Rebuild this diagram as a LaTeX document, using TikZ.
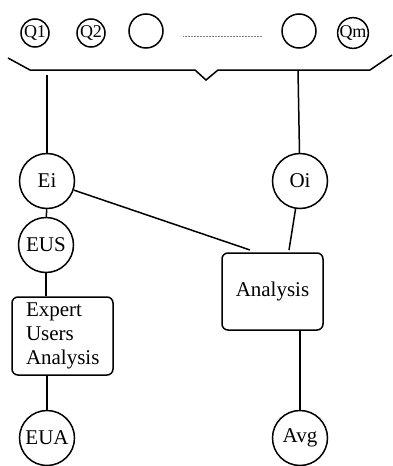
\documentclass[tikz,border=0pt]{standalone}
\usepackage{fontspec}
\setmainfont{Liberation Serif}
\begin{document}
\begin{tikzpicture}[x=1pt,y=-1pt,line width=1.5pt,
  qc/.style={circle,draw,minimum size=28pt,inner sep=0pt,font=\fontsize{18}{18}\selectfont},
  ec/.style={circle,draw,minimum size=34pt,inner sep=0pt},
  bc/.style={circle,draw,minimum size=55pt,inner sep=0pt,font=\fontsize{21}{21}\selectfont},
  rbox/.style={draw,rounded corners=6pt,minimum width=101pt,inner sep=0pt,font=\fontsize{21}{24}\selectfont}]
\useasboundingbox (0,0) rectangle (392,466);
% top row
\node[qc] (q1) at (35,33) {Q1};
\node[qc] (q2) at (91,33) {Q2};
\node[ec] (c1) at (146,31) {};
\node[ec] (c2) at (299,31) {};
\node[qc] (qm) at (353,33) {Qm};
\coordinate (d1) at (183,36);
\coordinate (d2) at (262,36);
\draw[line width=0.5pt,gray,densely dotted] (d1) -- (d2);
% brace
\coordinate (b1) at (8,58);
\coordinate (b2) at (30,70);
\coordinate (b3) at (195,70);
\coordinate (b4) at (206,80);
\coordinate (b5) at (218,70);
\coordinate (b6) at (370,70);
\coordinate (b7) at (392,55);
\draw (b1) -- (b2) -- (b3) -- (b4) -- (b5) -- (b6) -- (b7);
% lower nodes
\node[bc] (ei) at (47,181) {Ei};
\node[bc] (oi) at (300,181) {Oi};
\node[bc] (eus) at (46,245) {EUS};
\node[rbox,minimum height=77pt] (an) at (272.5,291.5) {Analysis};
\node[rbox,minimum height=78pt,text width=73pt,align=left] (eua_box) at (62.5,336) {Expert\\Users\\Analysis};
\node[bc] (eua) at (47,438) {EUA};
\node[bc] (avg) at (300,438) {Avg};
% connectors
\coordinate (l1) at (47,75);
\coordinate (r1) at (298,70);
\coordinate (a1) at (250,250);
\coordinate (a2) at (289,250);
\draw (l1) -- (ei);
\draw (r1) -- (oi);
\draw (ei) -- (eus);
\draw (ei) -- (a1);
\draw (oi) -- (a2);
\draw (eus.south) -- (eus.south |- eua_box.north);
\draw (eua_box.south -| eua.north) -- (eua);
\draw (an.south -| avg.north) -- (avg);
\end{tikzpicture}
\end{document}
